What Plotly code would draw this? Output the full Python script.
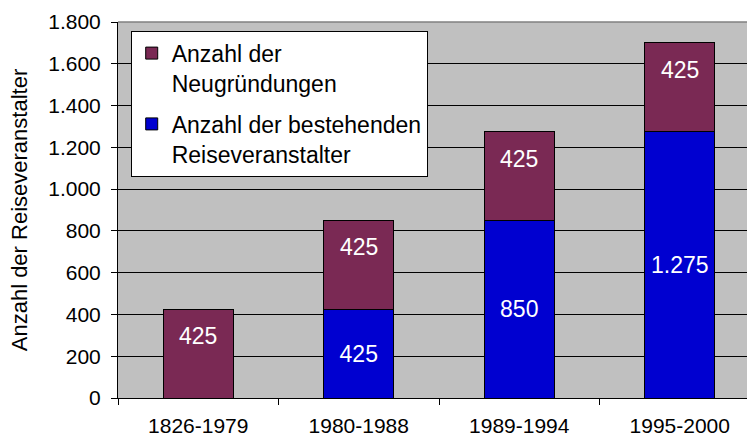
import plotly.graph_objects as go

categories = ["1826-1979", "1980-1988", "1989-1994", "1995-2000"]
existing = [0, 425, 850, 1275]
new_founded = [425, 425, 425, 425]
y_tick_values = [0, 200, 400, 600, 800, 1000, 1200, 1400, 1600, 1800]

name_existing = "Anzahl der bestehenden<br>Reiseveranstalter"
name_new = "Anzahl der<br>Neugründungen"
y_title = "Anzahl der Reiseveranstalter"

FONT = "Liberation Sans, Arial, sans-serif"


def de(v):
    return f"{v:,}".replace(",", ".")


fig = go.Figure()
fig.add_bar(
    x=categories, y=existing, name=name_existing, legendgroup="b", legendrank=2,
    marker=dict(color="#0000d0", line=dict(color="black", width=1)),
    text=[de(v) if v else "" for v in existing],
    textposition="inside", insidetextanchor="middle", textangle=0,
    textfont=dict(color="white", size=23, family=FONT),
    hoverinfo="skip",
)
fig.add_bar(
    x=categories, y=new_founded, name=name_new, legendgroup="a", legendrank=1,
    marker=dict(color="#7a2954", line=dict(color="black", width=1)),
    hoverinfo="skip",
)
for c, e, n in zip(categories, existing, new_founded):
    fig.add_annotation(
        x=c, y=e + n, yshift=-27, text=de(n), showarrow=False,
        font=dict(color="white", size=23, family=FONT),
    )

# plot-area top border
fig.add_shape(type="line", xref="paper", yref="paper", x0=0, x1=1, y0=1, y1=1,
              line=dict(color="#808080", width=1.5))

fig.update_layout(
    width=747, height=439,
    margin=dict(l=118, r=0, t=22, b=41),
    barmode="stack", bargap=0.564,
    plot_bgcolor="#c0c0c0", paper_bgcolor="white",
    separators=",.",
    font=dict(family=FONT, color="black", size=21),
    legend=dict(
        x=0.0202, y=0.977, xanchor="left", yanchor="top",
        bgcolor="white", bordercolor="black", borderwidth=1,
        font=dict(size=23, family=FONT),
        traceorder="grouped", tracegroupgap=8, valign="top",
    ),
    xaxis=dict(
        range=[-0.5, 3.419], showline=True, linecolor="black", linewidth=1,
        ticks="outside", tickson="boundaries", ticklen=6, tickcolor="black",
        showgrid=False, tickfont=dict(size=21), ticklabelstandoff=9,
    ),
    yaxis=dict(
        range=[0, 1800], tickvals=y_tick_values, tickformat=",d",
        showline=True, linecolor="black", linewidth=1,
        ticks="outside", ticklen=6, tickcolor="black",
        showgrid=True, gridcolor="black", gridwidth=1, zeroline=False,
        tickfont=dict(size=21), ticklabelstandoff=6,
        title=dict(text=y_title, font=dict(size=22), standoff=14),
    ),
)

fig.write_html(
    "out.html",
    config={"displayModeBar": False},
    post_script="document.body.style.margin='0';document.body.style.padding='0';",
)
